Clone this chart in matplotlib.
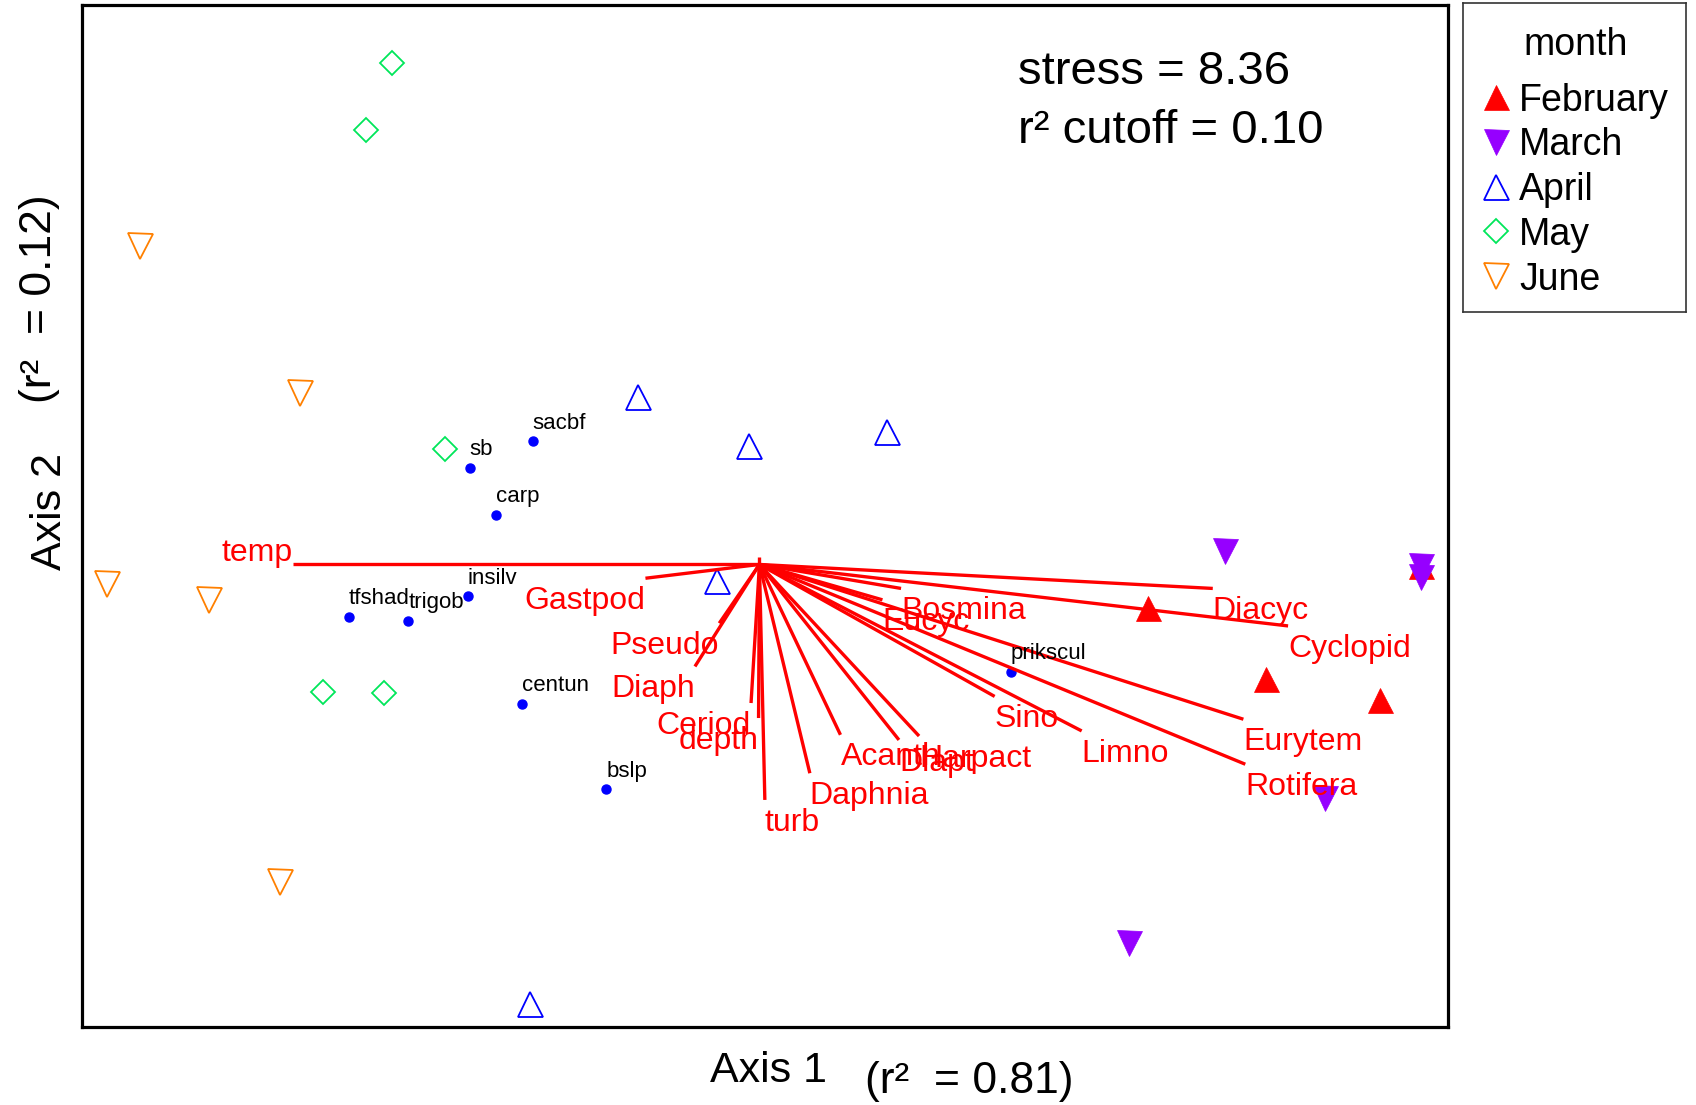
import matplotlib
matplotlib.use('Agg')
import matplotlib.pyplot as plt

plt.rcParams['font.family'] = ['Liberation Sans', 'DejaVu Sans']

# site scores on the two NMS axes, grouped by month
feb_x = [0.647, 0.844, 1.034, 1.103]
feb_y = [-0.073, -0.191, -0.226, -0.003]
mar_x = [0.776, 1.103, 1.103, 0.943, 0.616]
mar_y = [0.023, -0.003, -0.021, -0.390, -0.631]
apr_x = [-0.202, -0.018, 0.2125, -0.071, -0.382]
apr_y = [0.279, 0.198, 0.220, -0.027, -0.732]
may_x = [-0.612, -0.656, -0.524, -0.7275, -0.626]
may_y = [0.836, 0.724, 0.192, -0.2125, -0.215]
jun_x = [-1.033, -0.765, -1.0875, -0.918, -0.799]
jun_y = [0.530, 0.286, -0.0325, -0.060, -0.529]

# fish species scores
fish = ['sacbf', 'sb', 'carp', 'insilv', 'tfshad', 'trigob', 'centun', 'bslp', 'prikscul']
fish_x = [-0.378, -0.483, -0.439, -0.486, -0.684, -0.585, -0.395, -0.255, 0.419]
fish_y = [0.205, 0.161, 0.0825, -0.053, -0.087, -0.094, -0.2325, -0.375, -0.179]

# joint plot vectors (r2 cutoff = 0.10)
vec = ['temp', 'Gastpod', 'Pseudo', 'Diaph', 'Ceriod', 'depth', 'turb', 'Daphnia',
       'Acanth', 'Diapt', 'Harpact', 'Sino', 'Limno', 'Eucyc', 'Bosmina',
       'Diacyc', 'Cyclopid', 'Eurytem', 'Rotifera', '']
vec_x = [-0.778, -0.190, -0.067, -0.1075, -0.014, -0.0015, 0.009, 0.084,
         0.135, 0.2325, 0.266, 0.392, 0.537, 0.205, 0.236,
         0.7555, 0.881, 0.8065, 0.8097, 0.0]
vec_y = [0.0, -0.023, -0.098, -0.170, -0.231, -0.256, -0.3925, -0.348,
         -0.284, -0.2925, -0.286, -0.220, -0.2775, -0.059, -0.040,
         -0.040, -0.1025, -0.258, -0.333, 0.013]

months = ['February', 'March', 'April', 'May', 'June']

W, H = 1696, 1105
fig = plt.figure(figsize=(W / 100, H / 100), dpi=100)
ax = fig.add_axes([82 / W, 1 - 1027 / H, (1448 - 82) / W, (1027 - 5) / H])
ax.set_xlim(-1.129, 1.1475)
ax.set_ylim(-0.771, 0.9325)
ax.set_xticks([])
ax.set_yticks([])
for s in ax.spines.values():
    s.set_linewidth(2.3)

red = '#ff0000'
purple = '#9600ff'
blue = '#0000ff'
green = '#00e65a'
orange = '#ff8000'

# marker style per month
styles = [
    dict(marker='^', ms=18, mfc=red, mec=red, mew=0.5),
    dict(marker='v', ms=18, mfc=purple, mec=purple, mew=0.5),
    dict(marker='^', ms=18, mfc='none', mec=blue, mew=1.3),
    dict(marker='D', ms=12.5, mfc='none', mec=green, mew=1.3),
    dict(marker='v', ms=18, mfc='none', mec=orange, mew=1.3),
]
groups = [(feb_x, feb_y), (mar_x, mar_y), (apr_x, apr_y), (may_x, may_y), (jun_x, jun_y)]
for (gx, gy), st in zip(groups, styles):
    ax.plot(gx, gy, ls='none', zorder=2, **st)

ax.plot(fish_x, fish_y, ls='none', marker='o', ms=6.5, color=blue, zorder=2)
for name, x, y in zip(fish, fish_x, fish_y):
    ax.annotate(name, (x, y), xytext=(0, 9), textcoords='offset points',
                ha='left', va='baseline', fontsize=16, color='black', zorder=4)

# vectors from the centroid
for name, x, y in zip(vec, vec_x, vec_y):
    ax.plot([0, x], [0, y], color=red, lw=2.4, solid_capstyle='butt', zorder=3)
    if not name:
        continue
    ha = 'left' if x > 0 else 'right'
    if y >= 0:
        va, off = 'baseline', 2.5
    else:
        va, off = 'top', -5.5
    ax.annotate(name, (x, y), xytext=(0, off), textcoords='offset points',
                ha=ha, va=va, fontsize=23, color=red, zorder=4)

ax.text((1018 - 82) / 1366, (1027 - 84) / 1022, 'stress = 8.36', transform=ax.transAxes,
        fontsize=34, ha='left', va='baseline')
ax.text((1018 - 82) / 1366, (1027 - 142.7) / 1022, 'r² cutoff = 0.10', transform=ax.transAxes,
        fontsize=34, ha='left', va='baseline')

# axis titles
fig.text(710 / W, 1 - 1081.7 / H, 'Axis 1', fontsize=31, ha='left', va='baseline')
fig.text(865 / W, 1 - 1093 / H, '(r²  = 0.81)', fontsize=32, ha='left', va='baseline')
fig.text(61 / W, 1 - 512 / H, 'Axis 2', fontsize=31, rotation=90, rotation_mode='anchor',
         ha='center', va='baseline')
fig.text(51 / W, 1 - 299 / H, '(r²  = 0.12)', fontsize=32, rotation=90, rotation_mode='anchor',
         ha='center', va='baseline')

# legend box at the right, drawn in its own pixel-unit axes
lax = fig.add_axes([1463 / W, 1 - 311.7 / H, 223 / W, 308.4 / H])
lax.set_xlim(0, 223)
lax.set_ylim(308.4, 0)
lax.set_xticks([])
lax.set_yticks([])
for s in lax.spines.values():
    s.set_linewidth(1.2)
    s.set_color('#333333')
lax.text(112.8, 51.7, 'month', ha='center', va='baseline', fontsize=27)
for i, (label, st) in enumerate(zip(months, styles)):
    row = 94 + i * 44.7
    lax.plot([33], [row], ls='none', **st)
    lax.text(56, row + 13.4, label, ha='left', va='baseline', fontsize=27)

plt.savefig('out.png', dpi=100)
